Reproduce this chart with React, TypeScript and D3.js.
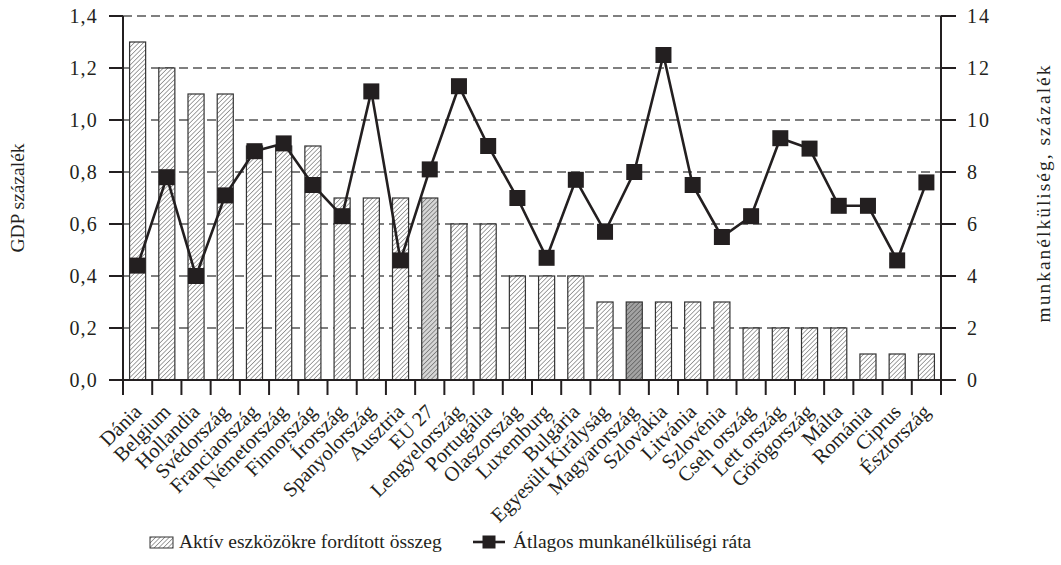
import React from "react";
import * as d3 from "d3";

const categories = [
  "Dánia", "Belgium", "Hollandia", "Svédország", "Franciaország", "Németország",
  "Finnország", "Írország", "Spanyolország", "Ausztria", "EU 27", "Lengyelország",
  "Portugália", "Olaszország", "Luxemburg", "Bulgária", "Egyesült Királyság",
  "Magyarország", "Szlovákia", "Litvánia", "Szlovénia", "Cseh ország", "Lett ország",
  "Görögország", "Málta", "Románia", "Ciprus", "Észtország",
];
const spending = [
  1.3, 1.2, 1.1, 1.1, 0.9, 0.9, 0.9, 0.7, 0.7, 0.7, 0.7, 0.6, 0.6, 0.4,
  0.4, 0.4, 0.3, 0.3, 0.3, 0.3, 0.3, 0.2, 0.2, 0.2, 0.2, 0.1, 0.1, 0.1,
];
const unemployment = [
  4.4, 7.8, 4.0, 7.1, 8.8, 9.1, 7.5, 6.3, 11.1, 4.6, 8.1, 11.3, 9.0, 7.0,
  4.7, 7.7, 5.7, 8.0, 12.5, 7.5, 5.5, 6.3, 9.3, 8.9, 6.7, 6.7, 4.6, 7.6,
];
const leftTicks = [0, 0.2, 0.4, 0.6, 0.8, 1.0, 1.2, 1.4];
const rightTicks = [0, 2, 4, 6, 8, 10, 12, 14];
const leftTitle = "GDP százalék";
const rightTitle = "munkanélküliség, százalék";
const legendBar = "Aktív eszközökre fordított összeg";
const legendLine = "Átlagos munkanélküliségi ráta";

const W = 1061;
const H = 565;
const L = 123, R = 941, T = 16, B = 380;
const FONT = "'Liberation Serif', 'Times New Roman', serif";
const INK = "#231f20";

export default function App() {
  const x = d3.scaleBand<string>().domain(categories).range([L, R]).paddingInner(0.45).paddingOuter(0.225);
  const yL = d3.scaleLinear().domain([0, 1.4]).range([B, T]);
  const yR = d3.scaleLinear().domain([0, 14]).range([B, T]);
  const step = x.step();
  const cx = (c: string) => (x(c) as number) + x.bandwidth() / 2;
  const line = d3.line<number>().x((_, i) => cx(categories[i])).y((d) => yR(d));
  const fmt = (v: number) => d3.format(".1f")(v).replace(".", ",");
  const ms = 16;

  const fillFor = (c: string) =>
    c === "EU 27" ? "#d6d6d6" : c === "Magyarország" ? "#a3a3a3" : "#ffffff";

  return (
    <svg width={W} height={H} style={{ display: "block", position: "absolute", left: 0, top: 0, background: "#fff" }} fontFamily={FONT}>
      <defs>
        <pattern id="hatch" patternUnits="userSpaceOnUse" width={3.2} height={3.2} patternTransform="rotate(45)">
          <line x1={0} y1={-1} x2={0} y2={5} stroke="#333" strokeWidth={0.9} />
        </pattern>
      </defs>
      <rect x={0} y={0} width={W} height={H} fill="#fff" />
      {/* gridlines */}
      {leftTicks.filter((t) => t > 0).map((t) => (
        <line key={"g" + t} x1={L} x2={R} y1={yL(t)} y2={yL(t)} stroke="#555" strokeWidth={1.5} strokeDasharray="9,5" />
      ))}
      {/* bars */}
      {categories.map((c, i) => (
        <g key={"b" + c}>
          <rect x={x(c)} y={yL(spending[i])} width={x.bandwidth()} height={B - yL(spending[i])} fill={fillFor(c)} />
          <rect x={x(c)} y={yL(spending[i])} width={x.bandwidth()} height={B - yL(spending[i])} fill="url(#hatch)" stroke="#333" strokeWidth={1.2} />
        </g>
      ))}
      {/* axes */}
      <line x1={L} x2={L} y1={T} y2={B} stroke={INK} strokeWidth={2} />
      <line x1={R} x2={R} y1={T} y2={B} stroke={INK} strokeWidth={2} />
      <line x1={L - 1} x2={R + 1} y1={B} y2={B} stroke={INK} strokeWidth={2} />
      {leftTicks.map((t) => (
        <g key={"lt" + t}>
          <line x1={L - 14} x2={L} y1={yL(t)} y2={yL(t)} stroke={INK} strokeWidth={2} />
          <text x={98} y={yL(t)} dy="0.35em" textAnchor="end" fontSize={20} letterSpacing={1.2} fill={INK}>{fmt(t)}</text>
        </g>
      ))}
      {rightTicks.map((t) => (
        <g key={"rt" + t}>
          <line x1={R} x2={R + 15} y1={yR(t)} y2={yR(t)} stroke={INK} strokeWidth={2} />
          <text x={967} y={yR(t)} dy="0.35em" textAnchor="start" fontSize={20} letterSpacing={2} fill={INK}>{t}</text>
        </g>
      ))}
      {d3.range(categories.length + 1).map((i) => (
        <line key={"xt" + i} x1={L + i * step} x2={L + i * step} y1={B} y2={B + 15} stroke={INK} strokeWidth={2} />
      ))}
      {categories.map((c) => (
        <text key={"xl" + c} transform={`translate(${cx(c) + 5},${B + 33}) rotate(-45)`} textAnchor="end" fontSize={20.5} fill={INK}>{c}</text>
      ))}
      {/* line series */}
      <path d={line(unemployment) || ""} fill="none" stroke={INK} strokeWidth={2.6} />
      {unemployment.map((v, i) => (
        <rect key={"m" + i} x={cx(categories[i]) - ms / 2} y={yR(v) - ms / 2} width={ms} height={ms} fill={INK} />
      ))}
      {/* titles */}
      <text transform={`translate(24,${(T + B) / 2}) rotate(-90)`} textAnchor="middle" fontSize={19.5} fill={INK}>{leftTitle}</text>
      <text transform={`translate(1050,193) rotate(-90)`} textAnchor="middle" fontSize={19.5} letterSpacing={2} fill={INK}>{rightTitle}</text>
      {/* legend */}
      <rect x={150} y={537} width={23} height={11} fill="url(#hatch)" stroke="#333" strokeWidth={1} />
      <text x={179} y={548} fontSize={19.5} fill={INK}>{legendBar}</text>
      <line x1={473} x2={505} y1={542} y2={542} stroke={INK} strokeWidth={2.6} />
      <rect x={489 - 6.5} y={542 - 6.5} width={13} height={13} fill={INK} />
      <text x={513} y={548} fontSize={19.5} fill={INK}>{legendLine}</text>
    </svg>
  );
}
